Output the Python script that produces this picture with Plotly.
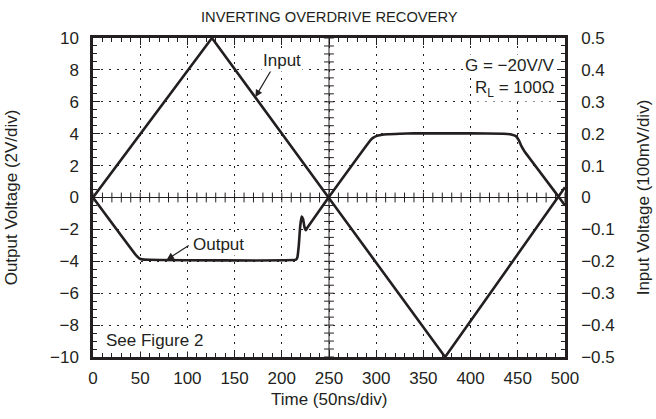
import numpy as np
import plotly.graph_objects as go

# ---- data ----
time_in = [0, 126, 249.5, 373, 500]
input_v = [0.0, 0.5, 0.0, -0.5, 0.032]          # volts (right axis)

time_out = [0, 46, 49, 52, 60, 215, 216.5, 218, 219.5, 221, 222.5, 224, 225.5, 227,
            249.5, 294, 297, 300, 305, 312, 325, 340, 400, 435, 443, 448, 451, 454, 457,
            493.8, 500]
output_v = [0.0, -3.65, -3.82, -3.88, -3.9, -3.9, -3.75, -3.0, -1.8, -1.2, -1.35, -1.85, -2.05, -1.9,
            0.0, 3.6, 3.75, 3.85, 3.92, 3.97, 4.0, 4.02, 4.02, 4.0, 3.95, 3.85, 3.6, 3.2, 2.9,
            0.0, -0.5]

FONT = "Liberation Sans, Arial, sans-serif"
BLACK = "#231f20"

fig = go.Figure()

# graticule centre lines (oscilloscope style)
fig.add_shape(type="line", xref="x", yref="y", x0=250, x1=250, y0=-10, y1=10,
              line=dict(color=BLACK, width=1))
fig.add_shape(type="line", xref="x", yref="y", x0=0, x1=500, y0=0, y1=0,
              line=dict(color=BLACK, width=1))
cy_minor = np.arange(-10, 10.001, 0.5)
cx_minor = np.arange(0, 500.001, 10)
fig.add_trace(go.Scatter(x=[250] * len(cy_minor), y=cy_minor, mode="markers",
                         marker=dict(symbol="line-ew-open", size=7, color=BLACK,
                                     line=dict(color=BLACK, width=1)),
                         hoverinfo="skip", showlegend=False))
fig.add_trace(go.Scatter(x=cx_minor, y=[0] * len(cx_minor), mode="markers",
                         marker=dict(symbol="line-ns-open", size=7, color=BLACK,
                                     line=dict(color=BLACK, width=1)),
                         hoverinfo="skip", showlegend=False))

fig.add_trace(go.Scatter(x=time_out, y=output_v, mode="lines", name="Output",
                         line=dict(color=BLACK, width=2.6, shape="spline", smoothing=0.3),
                         showlegend=False))
fig.add_trace(go.Scatter(x=time_in, y=input_v, mode="lines", name="Input", yaxis="y2",
                         line=dict(color=BLACK, width=2.6), showlegend=False))

tickfont = dict(family=FONT, size=17, color=BLACK)
common = dict(showline=True, linecolor=BLACK, linewidth=2.5, ticks="inside", tickcolor=BLACK,
              ticklen=7, tickwidth=1, tickfont=tickfont, zeroline=False,
              showgrid=True, gridcolor=BLACK, gridwidth=1, griddash="2px,6px")

fig.update_layout(
    width=656, height=419,
    margin=dict(l=93, r=91, t=38, b=62),
    paper_bgcolor="white", plot_bgcolor="white",
    xaxis=dict(range=[0, 500], dtick=50, tick0=0, mirror="ticks",
               minor=dict(dtick=10, ticks="inside", ticklen=4, tickcolor=BLACK, showgrid=False),
               ticklabelstandoff=4, **common),
    yaxis=dict(range=[-10, 10], dtick=2, tick0=0,
               minor=dict(dtick=0.5, ticks="inside", ticklen=4, tickcolor=BLACK, showgrid=False),
               ticklabelstandoff=8, **common),
    yaxis2=dict(range=[-0.5, 0.5], dtick=0.1, tick0=0, overlaying="y", side="right",
                minor=dict(dtick=0.025, ticks="inside", ticklen=4, tickcolor=BLACK, showgrid=False),
                ticklabelstandoff=10,
                **{**common, "showgrid": False}),
    showlegend=False,
)

ann_font = dict(family=FONT, size=17, color=BLACK)
annotations = [
    dict(text="INVERTING OVERDRIVE RECOVERY", xref="paper", yref="paper", x=0.5, y=1.066,
         xanchor="center", yanchor="middle",
         showarrow=False, font=dict(family=FONT, size=14.7, color=BLACK)),
    dict(text="Time (50ns/div)", xref="paper", yref="paper", x=0.5, y=-0.132,
         xanchor="center", yanchor="middle", showarrow=False, font=ann_font),
    dict(text="Output Voltage (2V/div)", xref="paper", yref="paper", x=-0.172, y=0.5,
         xanchor="center", yanchor="middle",
         textangle=-90, showarrow=False, font=ann_font),
    dict(text="Input Voltage (100mV/div)", xref="paper", yref="paper", x=1.167, y=0.5,
         xanchor="center", yanchor="middle",
         textangle=-90, showarrow=False, font=ann_font),
    # arrows
    dict(x=172, y=6.3, ax=190, ay=8.1, xref="x", yref="y", axref="x", ayref="y",
         text="", showarrow=True, arrowhead=2, arrowsize=1.2, arrowwidth=1.2, arrowcolor=BLACK),
    dict(text="Input", x=200, y=8.6, xref="x", yref="y", showarrow=False, font=ann_font,
         bgcolor="white"),
    dict(x=78, y=-3.9, ax=103, ay=-2.95, xref="x", yref="y", axref="x", ayref="y",
         text="", showarrow=True, arrowhead=2, arrowsize=1.2, arrowwidth=1.2, arrowcolor=BLACK),
    dict(text="Output", x=104, y=-2.95, xref="x", yref="y", xanchor="left", showarrow=False,
         font=ann_font, bgcolor="white"),
    dict(text="G = \u221220V/V", x=490, y=8.25, xref="x", yref="y", xanchor="right",
         showarrow=False, font=ann_font, bgcolor="white"),
    dict(text="R<sub>L</sub> = 100\u03a9", x=490, y=6.8, xref="x", yref="y", xanchor="right",
         showarrow=False, font=ann_font, bgcolor="white"),
    dict(text="See Figure 2", x=12, y=-8.95, xref="x", yref="y", xanchor="left",
         showarrow=False, font=ann_font, bgcolor="white"),
]
fig.update_layout(annotations=annotations)

# remove the page's default 8px body margin so the figure fills the window exactly
fig.write_html("out.html", config={"displayModeBar": False},
               post_script="document.body.style.margin='0px';")
